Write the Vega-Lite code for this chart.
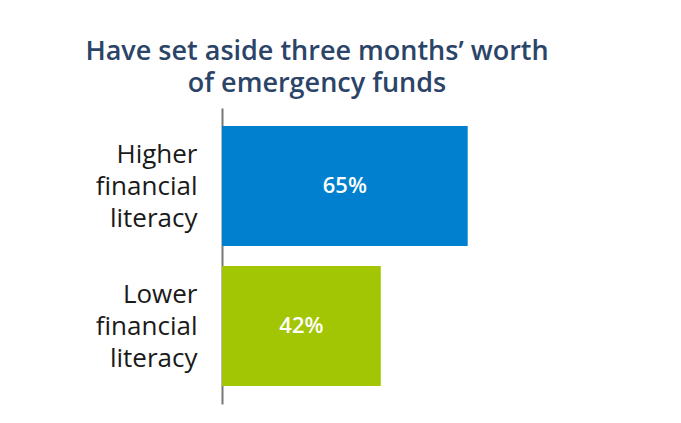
{
  "$schema": "https://vega.github.io/schema/vega-lite/v6.json",
  "width": 378,
  "height": 296,
  "autosize": "none",
  "padding": {"left": 222, "top": 108, "right": 81, "bottom": 19},
  "background": "white",
  "config": {"view": {"stroke": null}, "font": "Open Sans"},
  "title": {
    "text": ["Have set aside three months’ worth", "of emergency funds"],
    "frame": "group",
    "anchor": "start",
    "align": "center",
    "dx": 95,
    "font": "Open Sans",
    "fontSize": 27,
    "fontWeight": 600,
    "color": "#2B4468",
    "lineHeight": 32,
    "offset": 10
  },
  "data": {
    "values": [
      {"group": "Higher financial literacy", "value": 65, "label": "65%"},
      {"group": "Lower financial literacy", "value": 42, "label": "42%"}
    ]
  },
  "encoding": {
    "y": {
      "field": "group",
      "type": "nominal",
      "sort": null,
      "scale": {"paddingInner": 0.1429, "paddingOuter": 0.1286},
      "axis": {
        "title": null,
        "ticks": false,
        "domainColor": "#777777",
        "domainWidth": 2,
        "labelExpr": "split(datum.label, ' ')",
        "labelFont": "Open Sans",
        "labelFontSize": 26,
        "labelLineHeight": 32,
        "labelOffset": -31,
        "labelColor": "#1a1a1a",
        "labelPadding": 25,
        "labelLimit": 0
      }
    }
  },
  "layer": [
    {
      "mark": {"type": "bar"},
      "encoding": {
        "x": {"field": "value", "type": "quantitative", "scale": {"domain": [0, 100]}, "axis": null},
        "color": {
          "field": "group",
          "type": "nominal",
          "sort": null,
          "scale": {"range": ["#0080CE", "#A2C504"]},
          "legend": null
        }
      }
    },
    {
      "mark": {"type": "text", "color": "white", "fontSize": 22, "fontWeight": 600, "font": "Open Sans"},
      "encoding": {
        "x": {"field": "value", "type": "quantitative", "scale": {"domain": [0, 200]}, "axis": null},
        "text": {"field": "label", "type": "nominal"}
      }
    }
  ],
  "resolve": {"scale": {"x": "independent"}}
}
